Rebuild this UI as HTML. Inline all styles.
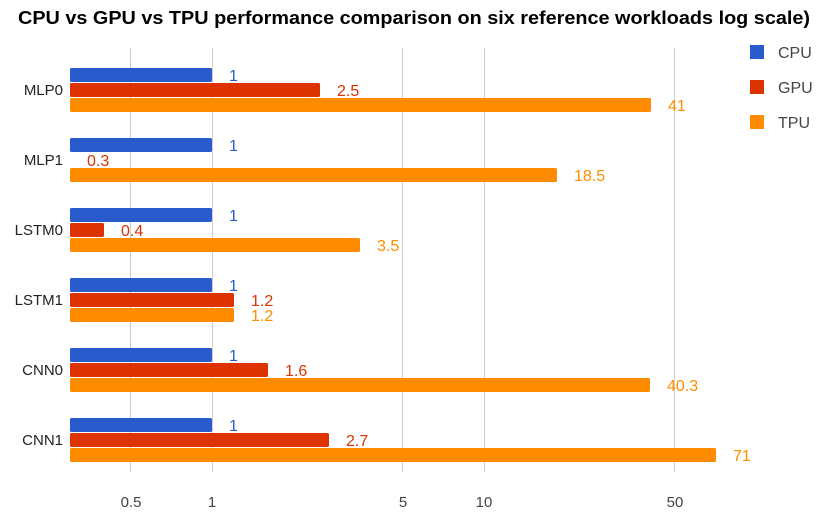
<!DOCTYPE html>
<html><head><meta charset="utf-8"><style>
body{margin:0;background:#fff;}
svg{display:block;font-family:"Liberation Sans",Arial,sans-serif;}
</style></head><body>
<svg width="840" height="514" viewBox="0 0 840 514" xmlns="http://www.w3.org/2000/svg">
<rect width="840" height="514" fill="#fff"/>
<text x="18" y="24" font-size="18" font-weight="bold" fill="#000" textLength="792" lengthAdjust="spacingAndGlyphs">CPU vs GPU vs TPU performance comparison on six reference workloads log scale)</text>
<g stroke="#cccccc" stroke-width="1">
<line x1="130.5" y1="48" x2="130.5" y2="472"/>
<line x1="212.5" y1="48" x2="212.5" y2="472"/>
<line x1="402.5" y1="48" x2="402.5" y2="472"/>
<line x1="484.5" y1="48" x2="484.5" y2="472"/>
<line x1="674.5" y1="48" x2="674.5" y2="472"/>
</g>
<g font-size="15" fill="#444" text-anchor="middle">
<text x="131" y="507">0.5</text><text x="212" y="507">1</text><text x="403" y="507">5</text><text x="484" y="507">10</text><text x="675" y="507">50</text>
</g>
<g font-size="15" fill="#222" text-anchor="end">
<text x="63" y="95">MLP0</text><text x="63" y="165">MLP1</text><text x="63" y="235">LSTM0</text><text x="63" y="305">LSTM1</text><text x="63" y="375">CNN0</text><text x="63" y="445">CNN1</text>
</g>
<g font-size="16">
<rect x="70" y="68" width="142" height="14" rx="1.5" fill="#2a5bcc"/><text x="229" y="81" fill="#2a5bcc">1</text>
<rect x="70" y="83" width="250" height="14" rx="1.5" fill="#dc3300"/><text x="337" y="96" fill="#dc3300">2.5</text>
<rect x="70" y="98" width="581" height="14" rx="1.5" fill="#ff8c00"/><text x="668" y="111" fill="#ff8c00">41</text>

<rect x="70" y="138" width="142" height="14" rx="1.5" fill="#2a5bcc"/><text x="229" y="151" fill="#2a5bcc">1</text>
<text x="87" y="166" fill="#dc3300">0.3</text>
<rect x="70" y="168" width="487" height="14" rx="1.5" fill="#ff8c00"/><text x="574" y="181" fill="#ff8c00">18.5</text>

<rect x="70" y="208" width="142" height="14" rx="1.5" fill="#2a5bcc"/><text x="229" y="221" fill="#2a5bcc">1</text>
<rect x="70" y="223" width="34" height="14" rx="1.5" fill="#dc3300"/><text x="121" y="236" fill="#dc3300">0.4</text>
<rect x="70" y="238" width="290" height="14" rx="1.5" fill="#ff8c00"/><text x="377" y="251" fill="#ff8c00">3.5</text>

<rect x="70" y="278" width="142" height="14" rx="1.5" fill="#2a5bcc"/><text x="229" y="291" fill="#2a5bcc">1</text>
<rect x="70" y="293" width="164" height="14" rx="1.5" fill="#dc3300"/><text x="251" y="306" fill="#dc3300">1.2</text>
<rect x="70" y="308" width="164" height="14" rx="1.5" fill="#ff8c00"/><text x="251" y="321" fill="#ff8c00">1.2</text>

<rect x="70" y="348" width="142" height="14" rx="1.5" fill="#2a5bcc"/><text x="229" y="361" fill="#2a5bcc">1</text>
<rect x="70" y="363" width="198" height="14" rx="1.5" fill="#dc3300"/><text x="285" y="376" fill="#dc3300">1.6</text>
<rect x="70" y="378" width="580" height="14" rx="1.5" fill="#ff8c00"/><text x="667" y="391" fill="#ff8c00">40.3</text>

<rect x="70" y="418" width="142" height="14" rx="1.5" fill="#2a5bcc"/><text x="229" y="431" fill="#2a5bcc">1</text>
<rect x="70" y="433" width="259" height="14" rx="1.5" fill="#dc3300"/><text x="346" y="446" fill="#dc3300">2.7</text>
<rect x="70" y="448" width="646" height="14" rx="1.5" fill="#ff8c00"/><text x="733" y="461" fill="#ff8c00">71</text>
</g>
<g font-size="16" fill="#444">
<rect x="750" y="45" width="14" height="14" fill="#2a5bcc"/><text x="778" y="58">CPU</text>
<rect x="750" y="80" width="14" height="14" fill="#dc3300"/><text x="778" y="93">GPU</text>
<rect x="750" y="115" width="14" height="14" fill="#ff8c00"/><text x="778" y="128">TPU</text>
</g>
</svg>
</body></html>
